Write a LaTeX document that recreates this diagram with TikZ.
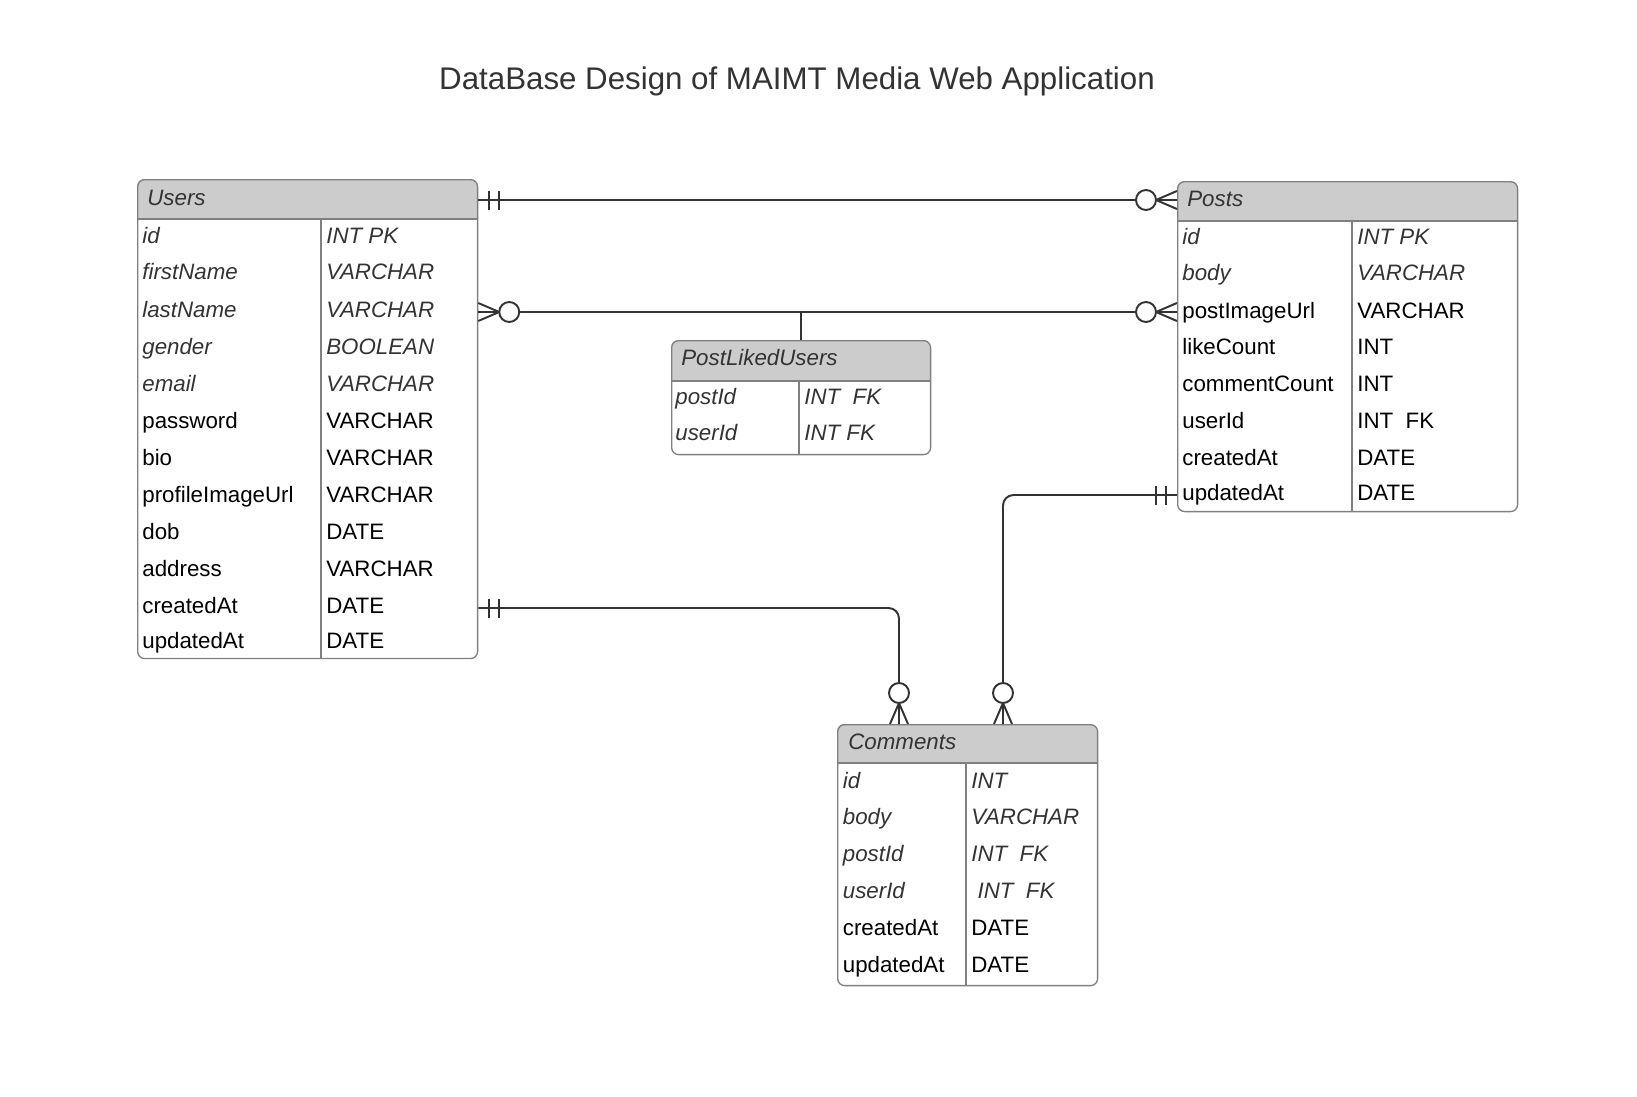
\documentclass[tikz,border=0pt]{standalone}
\usepackage{fontspec}
\setmainfont{Liberation Sans}
\usetikzlibrary{positioning,calc}

\definecolor{hdrgray}{HTML}{CCCCCC}
\definecolor{edgegray}{HTML}{808080}
\definecolor{linegray}{HTML}{333333}
\definecolor{txtgray}{HTML}{333333}

\tikzset{
  tablebox/.style={draw=edgegray, line width=0.75pt, rounded corners=4pt,
                   anchor=north west, inner sep=0pt},
  edge/.style={draw=edgegray, line width=0.75pt},
  rowtxt/.style={anchor=west, inner sep=0pt, text height=9.1pt, text depth=0pt},
  headtxt/.style={rowtxt, text=txtgray, font=\fontsize{12.7}{15}\selectfont\itshape},
  ittxt/.style={rowtxt, text=txtgray, font=\fontsize{12.7}{15}\selectfont\itshape},
  rmtxt/.style={rowtxt, text=black, font=\fontsize{12.7}{15}\selectfont},
  rel/.style={draw=linegray, line width=1.1pt, rounded corners=6pt},
  % crow's foot ends, drawn with the line leaving towards +x
  onebar/.pic={
    \draw[linegray, line width=1.1pt] (11,-9.5) -- (11,9.5) (21,-9.5) -- (21,9.5);
  },
  zmany/.pic={
    \draw[linegray, line width=1.1pt] (0,-9) -- (21,0) (0,9) -- (21,0) (0,0) -- (21,0);
    \draw[linegray, line width=1.1pt, fill=white] (31,0) circle (10);
  },
}

\begin{document}
\begin{tikzpicture}[x=0.02cm, y=-0.02cm]
  \useasboundingbox (0,0) rectangle (1637,1096);

  \node[font=\fontsize{17.8}{22}\selectfont, text=txtgray] (title) at (797,81)
    {DataBase Design of MAIMT Media Web Application};

  % Users
  \fill[hdrgray, rounded corners=4pt] (137,179) rectangle (477,219);
  \fill[hdrgray] (137,205) rectangle (477,219);
  \node[tablebox, minimum width=6.8cm, minimum height=9.58cm] (users) at (137,179) {};
  \draw[edge] (137,219) -- (477,219) (321,219) -- (321,658);
  \node[headtxt] (usersHead) at (147,197) {Users};
  \foreach \n/\f/\t/\y in {1/id/INT PK/235, 2/firstName/VARCHAR/271.5,
      3/lastName/VARCHAR/309, 4/gender/BOOLEAN/346, 5/email/VARCHAR/383} {
    \node[ittxt] (u\n) at (142,\y) {\f};
    \node[ittxt] (ut\n) at (326,\y) {\t};
  }
  \foreach \n/\f/\t/\y in {6/password/VARCHAR/420, 7/bio/VARCHAR/457,
      8/profileImageUrl/VARCHAR/494, 9/dob/DATE/531, 10/address/VARCHAR/568,
      11/createdAt/DATE/605.5, 12/updatedAt/DATE/640} {
    \node[rmtxt] (u\n) at (142,\y) {\f};
    \node[rmtxt] (ut\n) at (326,\y) {\t};
  }

  % Posts
  \fill[hdrgray, rounded corners=4pt] (1177,181) rectangle (1517,221);
  \fill[hdrgray] (1177,207) rectangle (1517,221);
  \node[tablebox, minimum width=6.8cm, minimum height=6.6cm] (posts) at (1177,181) {};
  \draw[edge] (1177,221) -- (1517,221) (1352,221) -- (1352,511);
  \node[headtxt] (postsHead) at (1187,198) {Posts};
  \foreach \n/\f/\t/\y in {1/id/INT PK/236, 2/body/VARCHAR/272.5} {
    \node[ittxt] (p\n) at (1182,\y) {\f};
    \node[ittxt] (pt\n) at (1357,\y) {\t};
  }
  \foreach \n/\f/\t/\y in {3/postImageUrl/VARCHAR/310, 4/likeCount/INT/346.6,
      5/commentCount/INT/383, 6/userId/INT\ \ FK/420, 7/createdAt/DATE/457,
      8/updatedAt/DATE/492} {
    \node[rmtxt] (p\n) at (1182,\y) {\f};
    \node[rmtxt] (pt\n) at (1357,\y) {\t};
  }

  % PostLikedUsers
  \fill[hdrgray, rounded corners=4pt] (671,340) rectangle (930,381);
  \fill[hdrgray] (671,366) rectangle (930,381);
  \node[tablebox, minimum width=5.18cm, minimum height=2.28cm] (likes) at (671,340) {};
  \draw[edge] (671,381) -- (930,381) (799,381) -- (799,454);
  \node[headtxt] (likesHead) at (681,357) {PostLikedUsers};
  \foreach \n/\f/\t/\y in {1/postId/INT\ \ FK/396, 2/userId/INT FK/432} {
    \node[ittxt] (l\n) at (675,\y) {\f};
    \node[ittxt] (lt\n) at (804,\y) {\t};
  }

  % Comments
  \fill[hdrgray, rounded corners=4pt] (837,724) rectangle (1097,763);
  \fill[hdrgray] (837,750) rectangle (1097,763);
  \node[tablebox, minimum width=5.2cm, minimum height=5.22cm] (comments) at (837,724) {};
  \draw[edge] (837,763) -- (1097,763) (966,763) -- (966,985);
  \node[headtxt] (commentsHead) at (848,741) {Comments};
  \foreach \n/\f/\t/\y in {1/id/INT/780, 2/body/VARCHAR/816.4,
      3/postId/INT\ \ FK/853, 4/userId/\ INT\ \ FK/890.5} {
    \node[ittxt] (c\n) at (842.5,\y) {\f};
    \node[ittxt] (ct\n) at (971,\y) {\t};
  }
  \foreach \n/\f/\t/\y in {5/createdAt/DATE/927, 6/updatedAt/DATE/964.5} {
    \node[rmtxt] (c\n) at (842.5,\y) {\f};
    \node[rmtxt] (ct\n) at (971,\y) {\t};
  }

  % relations
  \coordinate (headRel) at (users.east |- 0,200);
  \coordinate (likeJoin) at (likes.north |- 0,312);
  \coordinate (usersCmt) at (users.east |- 0,608);
  \coordinate (postsCmt) at (posts.west |- 0,495);
  \coordinate (cmtA) at ($(comments.north west)+(62,0)$);
  \coordinate (cmtB) at ($(comments.north west)+(166,0)$);

  \draw[rel] (headRel) -- (posts.west |- headRel);
  \draw[rel] (users.east |- likeJoin) -- (posts.west |- likeJoin);
  \draw[rel] (likes.north) -- (likeJoin);
  \draw[rel] (usersCmt) -| (cmtA);
  \draw[rel] (postsCmt) -| (cmtB);

  \pic at (headRel) {onebar};
  \pic[rotate=180] at (posts.west |- headRel) {zmany};
  \pic at (users.east |- likeJoin) {zmany};
  \pic[rotate=180] at (posts.west |- likeJoin) {zmany};
  \pic at (usersCmt) {onebar};
  \pic[rotate=90] at (cmtA) {zmany};
  \pic[rotate=180] at (postsCmt) {onebar};
  \pic[rotate=90] at (cmtB) {zmany};
\end{tikzpicture}
\end{document}
